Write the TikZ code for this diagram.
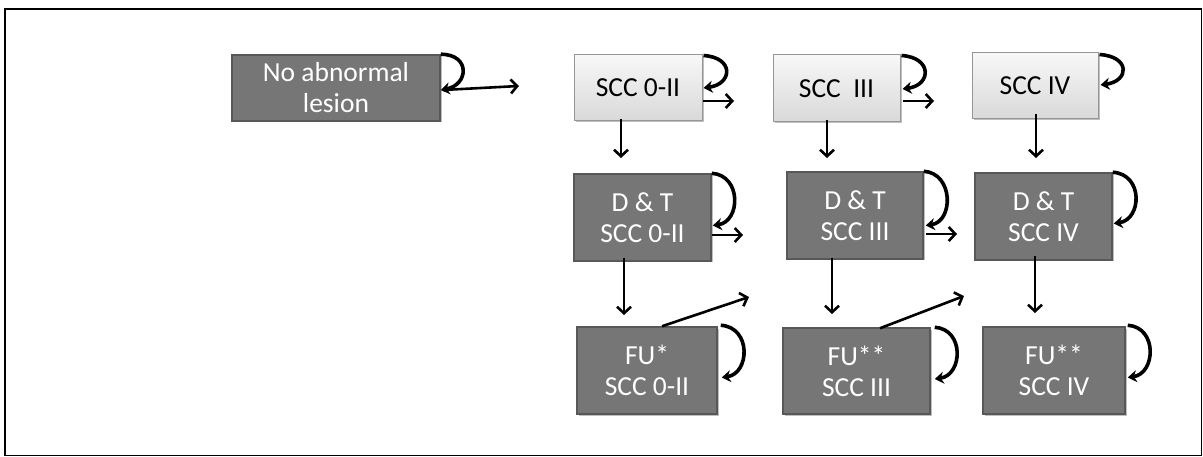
\documentclass[tikz,border=0pt]{standalone}
\usepackage{fontspec}
\setmainfont{Carlito}
\usetikzlibrary{arrows.meta,shadows}
\definecolor{darkbox}{RGB}{118,118,118}
\definecolor{darkedge}{RGB}{88,88,88}
\definecolor{lightedge}{RGB}{150,150,150}
\tikzset{
  base/.style={rectangle, inner sep=0pt, align=center, font=\fontsize{27.5}{31}\selectfont,
    drop shadow={shadow xshift=1.5pt, shadow yshift=-1.5pt, fill=black, opacity=0.25}},
  darkstate/.style={base, fill=darkbox, draw=darkedge, line width=1.5pt, text=white},
  lightstate/.style={base, top color=gray!6, bottom color=gray!30, draw=lightedge, line width=1pt, text=black},
  arr/.style={line width=2.6pt, -{Straight Barb[length=6.5pt,width=14pt,line width=2.6pt]}},
  loop/.style={line width=3.6pt, -{Stealth[length=9pt,width=12pt]}}
}
\begin{document}
\begin{tikzpicture}[x=1pt,y=-1pt]
\useasboundingbox (0,0) rectangle (1203,457);
\draw[line width=1.5pt] (5,9) rectangle (1201.5,455.5);

% nodes
\node[darkstate, minimum width=208pt, minimum height=66pt] (N0) at (336,88) {No abnormal\\lesion};
\node[lightstate, minimum width=128pt, minimum height=66pt] (S1) at (638,88) {SCC 0-II};
\node[lightstate, minimum width=127pt, minimum height=67pt] (S2) at (836.5,88.5) {SCC\ \ III};
\node[lightstate, minimum width=126pt, minimum height=66pt] (S3) at (1035,86) {SCC IV};
\node[darkstate, minimum width=137pt, minimum height=87pt] (D1) at (642.5,217.5) {D \& T\\SCC 0-II};
\node[darkstate, minimum width=136pt, minimum height=87pt] (D2) at (855,215.5) {D \& T\\SCC III};
\node[darkstate, minimum width=137pt, minimum height=87pt] (D3) at (1043.5,216.5) {D \& T\\SCC IV};
\node[darkstate, minimum width=140pt, minimum height=87pt] (F1) at (647,370.5) {FU*\\SCC 0-II};
\node[darkstate, minimum width=147pt, minimum height=86pt] (F2) at (856.5,371) {FU**\\SCC III};
\node[darkstate, minimum width=142pt, minimum height=87pt] (F3) at (1054,370.5) {FU**\\SCC IV};

% free ends
\coordinate (n0r) at (519,86);
\coordinate (s1r) at (734,101);
\coordinate (s2r) at (934,101);
\coordinate (s1d) at (621,158);
\coordinate (s2d) at (827,158);
\coordinate (s3d) at (1036,158);
\coordinate (d1r) at (743,235);
\coordinate (d2r) at (957,234);
\coordinate (d1d) at (624,315);
\coordinate (d2d) at (832,314);
\coordinate (d3d) at (1035,313);
\coordinate (f1r) at (749,297);
\coordinate (f2r) at (964,296);

% self loops
\draw[loop] (N0.north east) .. controls +(30,0) and +(28,-5) .. ([yshift=-2pt]N0.east);
\draw[loop] ([xshift=1pt,yshift=-1pt]S1.north east) .. controls +(31,2) and +(29,-4) .. ([xshift=1pt,yshift=0pt]S1.east);
\draw[loop] ([xshift=1pt,yshift=-1pt]S2.north east) .. controls +(31,2) and +(29,-4) .. ([xshift=2pt,yshift=-0.5pt]S2.east);
\draw[loop] ([xshift=1pt,yshift=-2pt]S3.north east) .. controls +(31,2) and +(29,-4) .. ([xshift=2pt,yshift=1pt]S3.east);
\draw[loop] (D1.north east) .. controls +(30,2) and +(28,-4) .. ([xshift=1pt,yshift=-8pt]D1.east);
\draw[loop] (D2.north east) .. controls +(30,2) and +(28,-4) .. ([xshift=2pt,yshift=-10pt]D2.east);
\draw[loop] (D3.north east) .. controls +(31,2) and +(28,-4) .. ([xshift=1pt,yshift=-7pt]D3.east);
\draw[loop] ([xshift=3pt,yshift=1pt]F1.north east) .. controls +(31,2) and +(28,-4) .. ([xshift=4pt,yshift=-7pt]F1.east);
\draw[loop] ([xshift=4pt,yshift=0pt]F2.north east) .. controls +(30,2) and +(28,-4) .. ([xshift=4pt,yshift=-8pt]F2.east);
\draw[loop] ([xshift=2pt,yshift=1pt]F3.north east) .. controls +(30,2) and +(28,-4) .. ([xshift=2pt,yshift=-7pt]F3.east);

% transitions
\draw[arr] ([xshift=2pt,yshift=-2pt]N0.east) -- (n0r);
\draw[arr] (S1.east |- s1r) -- (s1r);
\draw[arr] ([xshift=2pt]S2.east |- s2r) -- (s2r);
\draw[arr] ([yshift=2pt]S1.south -| s1d) -- (s1d);
\draw[arr] ([yshift=2pt]S2.south -| s2d) -- (s2d);
\draw[arr] ([yshift=5pt]S3.south -| s3d) -- (s3d);
\draw[arr] (D1.east |- d1r) -- (d1r);
\draw[arr] ([xshift=2pt]D2.east |- d2r) -- (d2r);
\draw[arr] ([yshift=4pt]D1.south -| d1d) -- (d1d);
\draw[arr] ([yshift=2pt]D2.south -| d2d) -- (d2d);
\draw[arr] ([yshift=5pt]D3.south -| d3d) -- (d3d);
\draw[arr] ([xshift=15pt]F1.north) -- (f1r);
\draw[arr] ([xshift=23.5pt,yshift=-1pt]F2.north) -- (f2r);
\end{tikzpicture}
\end{document}
